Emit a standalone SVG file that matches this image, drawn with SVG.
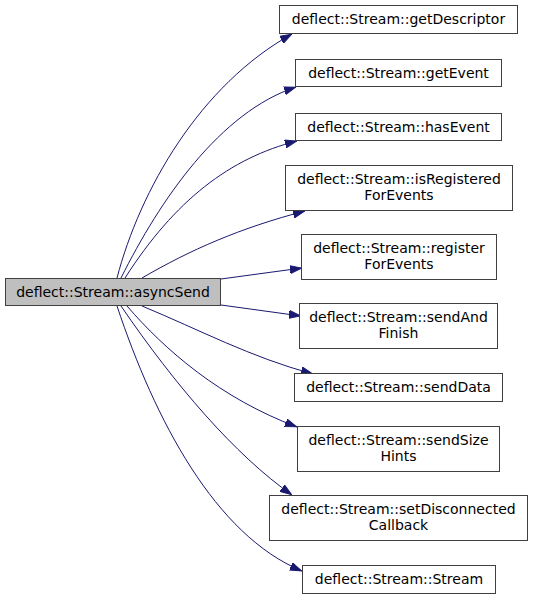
<svg xmlns="http://www.w3.org/2000/svg" width="533" height="600" viewBox="0 0 533 600">
<style>
.n rect{fill:#ffffff;stroke:#404040;stroke-width:1}
#main rect{fill:#bfbfbf}
text{font-family:"DejaVu Sans",sans-serif;font-size:14px;fill:#000;text-anchor:middle}
.e path{fill:none;stroke:#191970;stroke-width:1;marker-end:url(#arr)}
</style>
<defs>
<marker id="arr" markerUnits="userSpaceOnUse" markerWidth="12" markerHeight="9" viewBox="0 0 12 9" refX="12" refY="4.5" orient="auto">
<path d="M0,0.5 L11.5,4.5 L0,8.5 z" fill="#191970" stroke="#191970" stroke-width="1"/>
</marker>
</defs>
<rect width="533" height="600" fill="#ffffff"/>
<g id="edges" class="e">
<path d="M117,278 C140,190 200,85 292,34"/>
<path d="M121,278 C160,200 220,112 296,87"/>
<path d="M125,278 C175,200 230,158 297,141"/>
<path d="M142,278 C190,250 240,228 305,211"/>
<path d="M221,279 L302,268"/>
<path d="M221,305 L301,316"/>
<path d="M142,306 C200,330 250,357 313,374"/>
<path d="M127,306 C165,350 220,398 297,427"/>
<path d="M121,306 C175,385 235,455 292,495"/>
<path d="M117,306 C155,420 215,535 302,571"/>
</g>
<g id="main" class="n"><rect x="5.5" y="278.5" width="215" height="27"/><text x="113" y="297">deflect::Stream::asyncSend</text></g>
<g id="getDescriptor" class="n"><rect x="279.5" y="5.5" width="238" height="28"/><text x="398.5" y="24">deflect::Stream::getDescriptor</text></g>
<g id="getEvent" class="n"><rect x="295.5" y="59.5" width="206" height="27"/><text x="398.5" y="78">deflect::Stream::getEvent</text></g>
<g id="hasEvent" class="n"><rect x="295.5" y="113.5" width="206" height="27"/><text x="398.5" y="132">deflect::Stream::hasEvent</text></g>
<g id="isRegisteredForEvents" class="n"><rect x="285.5" y="165.5" width="227" height="45"/><text x="399" y="184">deflect::Stream::isRegistered</text><text x="399" y="200">ForEvents</text></g>
<g id="registerForEvents" class="n"><rect x="301.5" y="234.5" width="195" height="45"/><text x="399" y="253">deflect::Stream::register</text><text x="399" y="269">ForEvents</text></g>
<g id="sendAndFinish" class="n"><rect x="299.5" y="303.5" width="198" height="45"/><text x="398.5" y="322">deflect::Stream::sendAnd</text><text x="398.5" y="338">Finish</text></g>
<g id="sendData" class="n"><rect x="294.5" y="373.5" width="208" height="28"/><text x="398.5" y="392">deflect::Stream::sendData</text></g>
<g id="sendSizeHints" class="n"><rect x="297.5" y="426.5" width="202" height="45"/><text x="398.5" y="445">deflect::Stream::sendSize</text><text x="398.5" y="461">Hints</text></g>
<g id="setDisconnectedCallback" class="n"><rect x="269.5" y="495.5" width="258" height="45"/><text x="398.5" y="514">deflect::Stream::setDisconnected</text><text x="398.5" y="530">Callback</text></g>
<g id="Stream" class="n"><rect x="302.5" y="565.5" width="193" height="28"/><text x="399" y="584">deflect::Stream::Stream</text></g>
</svg>
